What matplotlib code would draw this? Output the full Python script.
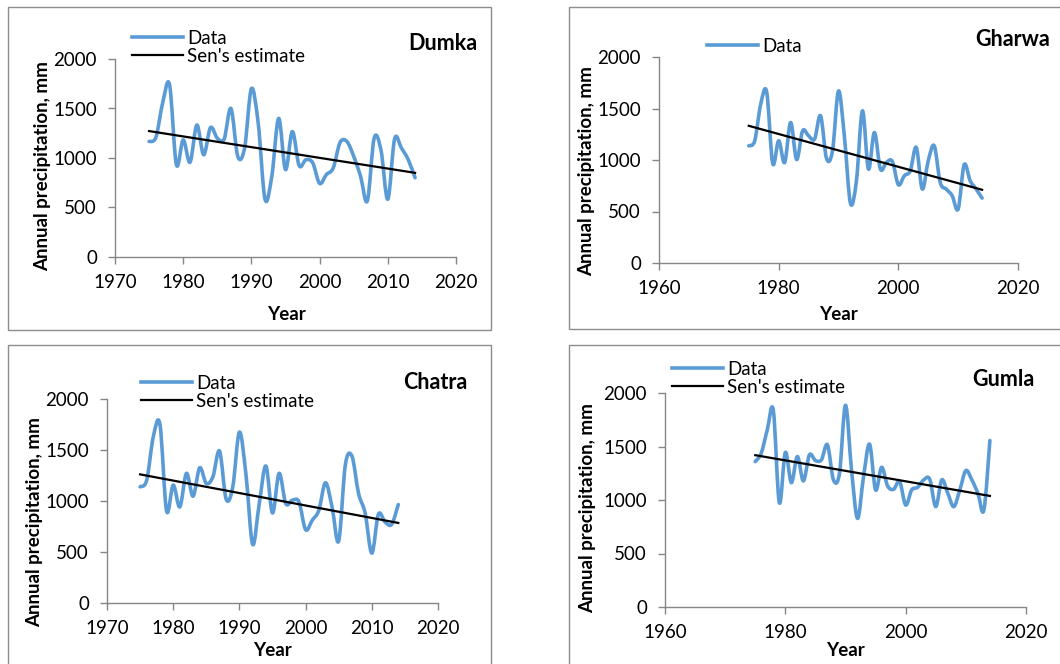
import numpy as np
import matplotlib
matplotlib.use('Agg')
import matplotlib.pyplot as plt
from matplotlib.path import Path
from matplotlib.patches import PathPatch, Rectangle
from matplotlib.lines import Line2D

plt.rcParams['font.family'] = ['Lato', 'DejaVu Sans']

years = np.arange(1975, 2015)

dumka = [1167, 1210, 1560, 1740, 933, 1183, 957, 1333, 1033, 1307,
         1200, 1190, 1500, 1017, 1100, 1700, 1350, 583, 820, 1400,
         883, 1267, 923, 983, 950, 743, 833, 900, 1157, 1167,
         1017, 817, 567, 1200, 1080, 583, 1193, 1100, 983, 800]
gharwa = [1138, 1187, 1542, 1660, 967, 1187, 976, 1364, 1005, 1283,
          1235, 1203, 1430, 1015, 1090, 1670, 1219, 579, 800, 1477,
          912, 1267, 912, 976, 986, 760, 847, 896, 1122, 718,
          993, 1138, 782, 718, 653, 524, 954, 799, 718, 630]
chatra = [1139, 1205, 1632, 1750, 903, 1156, 942, 1271, 1047, 1326,
          1172, 1238, 1490, 1018, 1139, 1675, 1254, 575, 975, 1343,
          883, 1271, 975, 1008, 991, 719, 811, 909, 1179, 940,
          607, 1353, 1440, 1074, 880, 489, 870, 794, 771, 965]
gumla = [1359, 1438, 1656, 1840, 975, 1444, 1162, 1406, 1178, 1422,
         1369, 1375, 1516, 1188, 1250, 1885, 1281, 828, 1219, 1522,
         1094, 1306, 1131, 1100, 1172, 953, 1094, 1119, 1188, 1194,
         938, 1188, 1063, 938, 1094, 1275, 1188, 1063, 906, 1556]

# Sen's slope line end values (1975, 2014)
sen_years = [1975, 2014]
sen_dumka = [1272, 850]
sen_gharwa = [1332, 711]
sen_chatra = [1261, 785]
sen_gumla = [1419, 1038]

W, H = 1060, 664
fig = plt.figure(figsize=(W / 100, H / 100), dpi=100)
BLUE = '#5B9BD5'
GRAY = '#868686'


def px_rect(l, t, r, b):
    return [l / W, 1 - b / H, (r - l) / W, (b - t) / H]


def smooth_path(x, y):
    # Excel-like smoothed line: Catmull-Rom converted to cubic Bezier
    x = np.asarray(x, float)
    y = np.asarray(y, float)
    pts = np.column_stack([x, y])
    n = len(pts)
    verts = [pts[0]]
    codes = [Path.MOVETO]
    for i in range(n - 1):
        p0 = pts[i - 1] if i > 0 else pts[i]
        p1, p2 = pts[i], pts[i + 1]
        p3 = pts[i + 2] if i + 2 < n else pts[i + 1]
        c1 = p1 + (p2 - p0) / 6.0
        c2 = p2 - (p3 - p1) / 6.0
        verts += [c1, c2, p2]
        codes += [Path.CURVE4] * 3
    return Path(verts, codes)


def panel(box, axrect, xlim, xticks, data, sen, name, title_xy, title_ha,
          ylab_xy, year_xy, leg_xy, show_sen_legend=True):
    fig.patches.append(Rectangle((box[0] / W, 1 - box[3] / H),
                                 (box[2] - box[0]) / W, (box[3] - box[1]) / H,
                                 transform=fig.transFigure, fill=False,
                                 edgecolor='#8c8c8c', lw=1.0))
    ax = fig.add_axes(px_rect(*axrect))
    ax.set_xlim(*xlim)
    ax.set_ylim(0, 2000)
    ax.set_xticks(xticks)
    ax.set_yticks([0, 500, 1000, 1500, 2000])
    for s in ['top', 'right']:
        ax.spines[s].set_visible(False)
    for s in ['left', 'bottom']:
        ax.spines[s].set_color(GRAY)
        ax.spines[s].set_linewidth(1.0)
    ax.tick_params(direction='out', length=5, width=1, color=GRAY,
                   labelsize=13.5)
    ax.tick_params(axis='y', pad=8)
    ax.tick_params(axis='x', pad=7)
    ax.patch.set_alpha(0)

    ax.add_patch(PathPatch(smooth_path(years, data), fill=False,
                           edgecolor=BLUE, lw=2.6, joinstyle='round',
                           capstyle='round', clip_on=False))
    ax.plot(sen_years, sen, color='black', lw=1.6, clip_on=False)

    handles = [Line2D([], [], color=BLUE, lw=2.6)]
    labels = ['Data']
    if show_sen_legend:
        handles.append(Line2D([], [], color='black', lw=1.6))
        labels.append("Sen's estimate")
    ax.legend(handles, labels, loc='upper left',
              bbox_to_anchor=(leg_xy[0] / W, 1 - leg_xy[1] / H),
              bbox_transform=fig.transFigure, frameon=False, fontsize=13.5,
              handlelength=2.7, handletextpad=0.25, borderpad=0,
              borderaxespad=0, labelspacing=0.05)

    fig.text(title_xy[0] / W, 1 - title_xy[1] / H, name, ha=title_ha,
             va='center', fontsize=15.5, fontweight='bold')
    fig.text(ylab_xy[0] / W, 1 - ylab_xy[1] / H, 'Annual precipitation, mm',
             rotation=90, ha='center', va='center', fontsize=13.5,
             fontweight='bold')
    fig.text(year_xy[0] / W, 1 - year_xy[1] / H, 'Year', ha='center',
             va='center', fontsize=13.5, fontweight='bold')
    return ax


panel((8, 7, 491, 330), (115, 59, 456, 257), (1970, 2020),
      [1970, 1980, 1990, 2000, 2010, 2020], dumka, sen_dumka, 'Dumka',
      (443, 43), 'center', (43, 166), (286, 314), (132, 30))
panel((569, 7, 1075, 329), (659, 57, 1018, 263), (1960, 2020),
      [1960, 1980, 2000, 2020], gharwa, sen_gharwa, 'Gharwa',
      (975, 40), 'left', (587, 171), (838, 314), (707, 38),
      show_sen_legend=False)
panel((8, 345, 491, 680), (107, 399, 438, 603), (1970, 2020),
      [1970, 1980, 1990, 2000, 2010, 2020], chatra, sen_chatra, 'Chatra',
      (435, 383), 'center', (35, 522), (272, 651), (141, 375))
panel((569, 345, 1075, 680), (665, 393, 1026, 607), (1960, 2020),
      [1960, 1980, 2000, 2020], gumla, sen_gumla, 'Gumla',
      (1003, 379), 'center', (588, 508), (845, 651), (672, 361))

fig.savefig('out.png', dpi=100)
